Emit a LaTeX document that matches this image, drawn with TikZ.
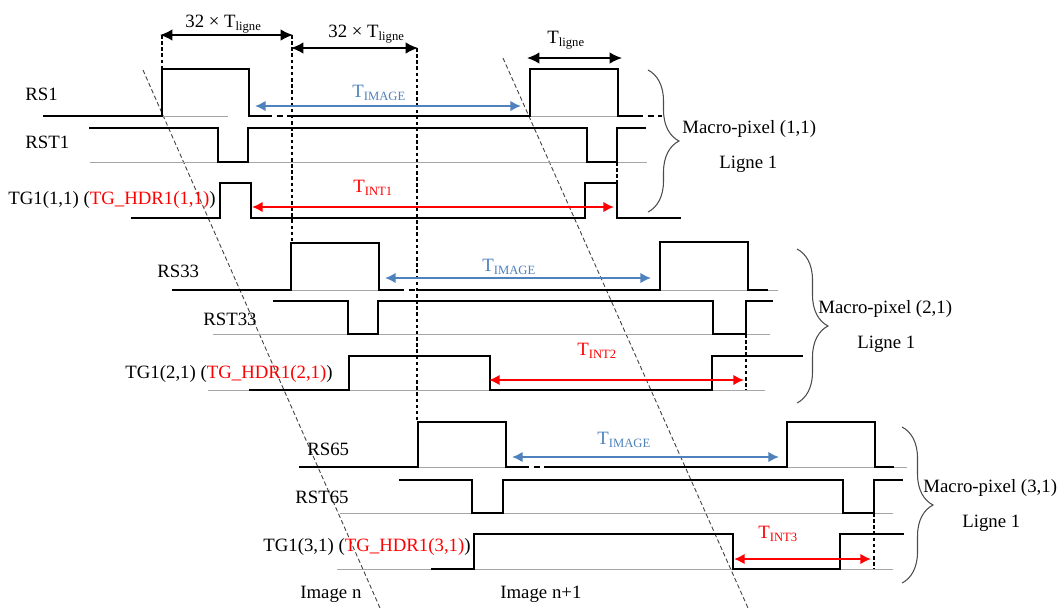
\documentclass[tikz,border=0pt]{standalone}
\usepackage{fontspec}
\setmainfont{Liberation Serif}
\usetikzlibrary{arrows.meta,decorations.pathreplacing}
\definecolor{tblue}{RGB}{79,129,189}
\definecolor{tred}{RGB}{255,0,0}
\newcommand{\lsub}[1]{\raisebox{-2.2pt}{\fontsize{7.2}{8}\selectfont #1}}
\begin{document}
\begin{tikzpicture}[x=0.02cm,y=-0.02cm,
  sig/.style={line width=1.2pt, line join=miter, line cap=rect},
  refl/.style={gray!70, line width=0.5pt},
  brk/.style={line width=1.2pt, dash pattern=on 3.5pt off 2.5pt},
  vdash/.style={line width=0.6pt, dash pattern=on 2pt off 1.5pt},
  diag/.style={line width=0.5pt, dash pattern=on 2.5pt off 1.5pt, black!75},
  dim/.style={{Latex[length=7pt,width=6.5pt]}-{Latex[length=7pt,width=6.5pt]}, line width=0.9pt},
  timg/.style={tblue, line width=1.3pt, {Latex[length=6pt,width=6pt]}-{Latex[length=6pt,width=6pt]}},
  tint/.style={tred, line width=1.3pt, {Latex[length=6pt,width=6pt]}-{Latex[length=6pt,width=6pt]}},
  lbl/.style={font=\fontsize{10.7}{13}\selectfont, inner sep=0pt},
  bracestyle/.style={decorate, decoration={brace, amplitude=0.62cm}, line width=0.6pt, black!70}
]
\useasboundingbox (0,0) rectangle (1060,610);

% ---------- diagonals ----------
\coordinate (d1a) at (143,70);  \coordinate (d1b) at (380,608);
\coordinate (d2a) at (503,58);  \coordinate (d2b) at (748,608);
\draw[diag] (d1a) -- (d1b);
\draw[diag] (d2a) -- (d2b);

% ---------- vertical dashed references ----------
\coordinate (v1a) at (162,35);  \coordinate (v1b) at (162,69);
\coordinate (v2a) at (292,35);  \coordinate (v2b) at (292,243);
\coordinate (v3a) at (417,48);  \coordinate (v3b) at (417,422);
\draw[vdash] (v1a) -- (v1b);
\draw[vdash] (v2a) -- (v2b);
\draw[vdash] (v3a) -- (v3b);

% ---------- top dimension arrows ----------
\coordinate (a1l) at (160,35); \coordinate (a1r) at (293,35);
\coordinate (a2l) at (291,48); \coordinate (a2r) at (418,48);
\coordinate (a3l) at (527,58); \coordinate (a3r) at (622,58);
\draw[dim] (a1l) -- (a1r);
\draw[dim] (a2l) -- (a2r);
\draw[dim] (a3l) -- (a3r);
\node[lbl, anchor=base west] (l32a) at (185,27) {32 × T\lsub{ligne}};
\node[lbl, anchor=base west] (l32b) at (328,37) {32 × T\lsub{ligne}};
\node[lbl, anchor=base west] (ltl) at (547,43) {T\lsub{ligne}};

% ================= Group 1 =================
\draw[refl] (162,116) -- (228,116);
\draw[refl] (530,116) -- (618,116);
\draw[refl] (90,162) -- (647,162);
\draw[sig] (44,116) -- (162,116) -- (162,69) -- (249,69) -- (249,116) -- (266,116);
\draw[brk] (266,116) -- (292,116);
\draw[sig] (292,116) -- (530,116) -- (530,69) -- (618,69) -- (618,116) -- (637,116);
\draw[brk] (637,116) -- (662,116);
\draw[sig] (90,128) -- (218,128) -- (218,162) -- (248,162) -- (248,128) -- (587,128) -- (587,162) -- (617,162) -- (617,128) -- (645,128);
\draw[sig] (132,218) -- (220,218) -- (220,183) -- (251,183) -- (251,218) -- (585,218) -- (585,183) -- (617,183) -- (617,218) -- (680,218);
\draw[vdash, line width=1pt] (617,162) -- (617,183);

\coordinate (ti1l) at (255,106); \coordinate (ti1r) at (521,106);
\draw[timg] (ti1l) -- (ti1r);
\coordinate (tn1l) at (252,207); \coordinate (tn1r) at (614,207);
\draw[tint] (tn1l) -- (tn1r);
\node[lbl, anchor=base west, text=tblue] (lti1) at (352,97) {T\lsub{IMAGE}};
\node[lbl, anchor=base west, text=tred] (ltn1) at (353,192) {T\lsub{INT1}};

\node[lbl, anchor=base west] (rs1) at (25,100) {RS1};
\node[lbl, anchor=base west] (rst1) at (25,148) {RST1};
\node[lbl, anchor=base west] (tg1) at (8,204) {TG1(1,1) (\textcolor{tred}{TG\_HDR1(1,1)})};

\coordinate (b1t) at (648,70); \coordinate (b1b) at (648,212);
\draw[bracestyle] (b1t) -- (b1b);
\node[lbl, anchor=base west] (mp1) at (682,133) {Macro-pixel (1,1)};
\node[lbl, anchor=base west] (lg1) at (719,168) {Ligne 1};

% ================= Group 2 =================
\draw[refl] (291,290) -- (379,290);
\draw[refl] (660,290) -- (778,290);
\draw[refl] (213,334) -- (770,334);
\draw[refl] (208,390) -- (765,390);
\draw[sig] (173,290) -- (291,290) -- (291,243) -- (379,243) -- (379,290) -- (398,290);
\draw[brk] (398,290) -- (417,290);
\draw[sig] (417,290) -- (660,290) -- (660,242) -- (748,242) -- (748,290) -- (767,290);
\draw[sig] (274,301) -- (348,301) -- (348,334) -- (378,334) -- (378,301) -- (713,301) -- (713,334) -- (746,334) -- (746,301) -- (772,301);
\draw[sig] (250,390) -- (349,390) -- (349,356) -- (490,356) -- (490,390) -- (712,390) -- (712,356) -- (802,356);
\draw[vdash, line width=1pt] (746,334) -- (746,390);

\coordinate (ti2l) at (385,278); \coordinate (ti2r) at (651,278);
\draw[timg] (ti2l) -- (ti2r);
\coordinate (tn2l) at (489,380); \coordinate (tn2r) at (744,380);
\draw[tint] (tn2l) -- (tn2r);
\node[lbl, anchor=base west, text=tblue] (lti2) at (482,271) {T\lsub{IMAGE}};
\node[lbl, anchor=base west, text=tred] (ltn2) at (577,355) {T\lsub{INT2}};

\node[lbl, anchor=base west] (rs33) at (157,277) {RS33};
\node[lbl, anchor=base west] (rst33) at (203,325) {RST33};
\node[lbl, anchor=base east] (tg2) at (333,378) {TG1(2,1) (\textcolor{tred}{TG\_HDR1(2,1)})};

\coordinate (b2t) at (797,249); \coordinate (b2b) at (797,403);
\draw[bracestyle] (b2t) -- (b2b);
\node[lbl, anchor=base west] (mp2) at (818,313) {Macro-pixel (2,1)};
\node[lbl, anchor=base west] (lg2) at (857,348) {Ligne 1};

% ================= Group 3 =================
\draw[refl] (418,467) -- (506,467);
\draw[refl] (787,467) -- (907,467);
\draw[refl] (340,513) -- (893,513);
\draw[refl] (337,569) -- (893,569);
\draw[sig] (300,467) -- (418,467) -- (418,422) -- (506,422) -- (506,467) -- (523,467);
\draw[brk] (523,467) -- (548,467);
\draw[sig] (548,467) -- (787,467) -- (787,422) -- (875,422) -- (875,467) -- (893,467);
\draw[sig] (400,480) -- (472,480) -- (472,513) -- (503,513) -- (503,480) -- (843,480) -- (843,513) -- (874,513) -- (874,480) -- (902,480);
\draw[sig] (432,569) -- (474,569) -- (474,534) -- (733,534) -- (733,569) -- (840,569) -- (840,534) -- (903,534);
\draw[vdash, line width=1pt] (874,513) -- (874,569);

\coordinate (ti3l) at (512,457); \coordinate (ti3r) at (779,457);
\draw[timg] (ti3l) -- (ti3r);
\coordinate (tn3l) at (734,559); \coordinate (tn3r) at (871,559);
\draw[tint] (tn3l) -- (tn3r);
\node[lbl, anchor=base west, text=tblue] (lti3) at (597,444) {T\lsub{IMAGE}};
\node[lbl, anchor=base west, text=tred] (ltn3) at (758,538) {T\lsub{INT3}};

\node[lbl, anchor=base west] (rs65) at (307,455) {RS65};
\node[lbl, anchor=base west] (rst65) at (295,503) {RST65};
\node[lbl, anchor=base west] (tg3) at (263,551) {TG1(3,1) (\textcolor{tred}{TG\_HDR1(3,1)})};
\node[lbl, anchor=base west] (imn) at (300,598) {Image n};
\node[lbl, anchor=base west] (imn1) at (500,598) {Image n+1};

\coordinate (b3t) at (902,427); \coordinate (b3b) at (902,583);
\draw[bracestyle] (b3t) -- (b3b);
\node[lbl, anchor=base west] (mp3) at (923,492) {Macro-pixel (3,1)};
\node[lbl, anchor=base west] (lg3) at (962,527) {Ligne 1};
\end{tikzpicture}
\end{document}
